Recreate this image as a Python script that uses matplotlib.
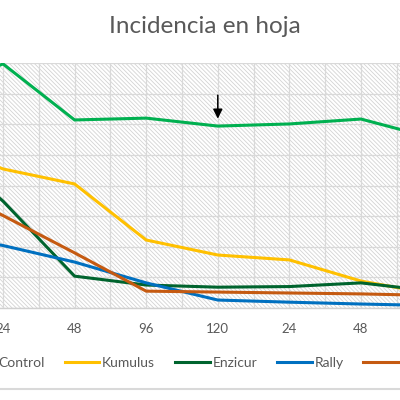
import matplotlib
matplotlib.use("Agg")
import matplotlib.pyplot as plt
from matplotlib.patches import Rectangle
from matplotlib.lines import Line2D

plt.rcParams['font.family'] = ['Lato', 'DejaVu Sans']
plt.rcParams['hatch.linewidth'] = 0.6

# ---- data ----
categories = ['120', '24', '48', '96', '120', '24', '48', '96']
control = [70.0, 79.7, 61.4, 62.0, 59.4, 60.1, 61.7, 55.5]
kumulus = [55.0, 45.4, 40.5, 22.2, 17.3, 15.7, 8.8, 4.6]
enzicur = [55.0, 34.9, 10.4, 7.5, 6.8, 7.0, 8.2, 5.5]
rally = [25.0, 20.4, 15.0, 8.2, 2.6, 1.9, 1.3, 0.8]
serie5 = [42.0, 30.2, 18.0, 5.5, 5.2, 4.9, 4.6, 4.1]
series_names = ['Control', 'Kumulus', 'Enzicur', 'Rally', 'Serenade']
series_colors = ['#00B050', '#FFC000', '#00642E', '#0070C0', '#C55A11']
title = 'Incidencia en hoja'

W, H = 400, 400
fig = plt.figure(figsize=(4, 4), dpi=100)
fig.patch.set_facecolor('white')

# axes geometry in pixels (chart is a crop of a wider chart)
cat_step = 71.6
first_px = 3.0          # pixel position of category index 1
xmin, xmax = -0.5, 8.5
left_px = first_px + (xmin - 1) * cat_step
width_px = (xmax - xmin) * cat_step
top_px, bottom_px = 63, 308
ax = fig.add_axes([left_px / W, (H - bottom_px) / H, width_px / W, (bottom_px - top_px) / H])
ax.set_xlim(xmin, xmax)
ax.set_ylim(0, 80)

# hatched plot area
ax.add_patch(Rectangle((0, 0), 1, 1, transform=ax.transAxes, facecolor='white',
                       edgecolor='#D3D3D3', hatch='\\' * 8, linewidth=0, zorder=0))

x = list(range(len(categories)))
for vals, name, col in zip([control, kumulus, enzicur, rally, serie5], series_names, series_colors):
    ax.plot(x, vals, color=col, lw=2.2, label=name, zorder=3, solid_joinstyle='miter')

# arrow pointing at Control at '120'
ax.annotate('', xy=(4, control[4] + 1.5), xytext=(4, control[4] + 11),
            arrowprops=dict(arrowstyle='-|>', color='black', lw=1.1, mutation_scale=14),
            zorder=5)

ax.set_xticks(x)
ax.set_xticklabels(categories)
ax.set_xticks([i + 0.5 for i in range(-1, len(categories) + 1)], minor=True)
ax.set_yticks(range(0, 81, 10))
ax.grid(True, which='both', axis='x', color='#D9D9D9', lw=0.9, zorder=1)
ax.grid(True, which='major', axis='y', color='#D9D9D9', lw=0.9, zorder=1)
ax.set_axisbelow(False)
for gl in ax.get_xgridlines() + ax.get_ygridlines():
    gl.set_zorder(1)
ax.tick_params(axis='x', which='both', length=0, pad=11, labelsize=9.5, labelcolor='#595959')
ax.tick_params(axis='y', which='both', length=0, labelleft=False)
for s in ['left', 'right', 'top']:
    ax.spines[s].set_visible(False)
ax.spines['bottom'].set_color('#D0D0D0')
ax.spines['bottom'].set_linewidth(1.0)
ax.spines['bottom'].set_zorder(2)

fig.text(205 / W, (H - 33) / H, title, ha='center', va='baseline',
         fontsize=17.5, color='#595959')

handles, labels = ax.get_legend_handles_labels()
leg = fig.legend(handles, labels, loc='center left', bbox_to_anchor=(-39 / W, (H - 363) / H),
                 ncol=5, frameon=False, fontsize=10, borderpad=0, borderaxespad=0,
                 handlelength=2.5, handletextpad=0.2, columnspacing=1.42, labelcolor='#595959')

# chart area bottom border
fig.add_artist(Line2D([0, 1], [(H - 389) / H] * 2, transform=fig.transFigure,
                      color='#D9D9D9', lw=1.5))

fig.savefig('out.png', dpi=100)
